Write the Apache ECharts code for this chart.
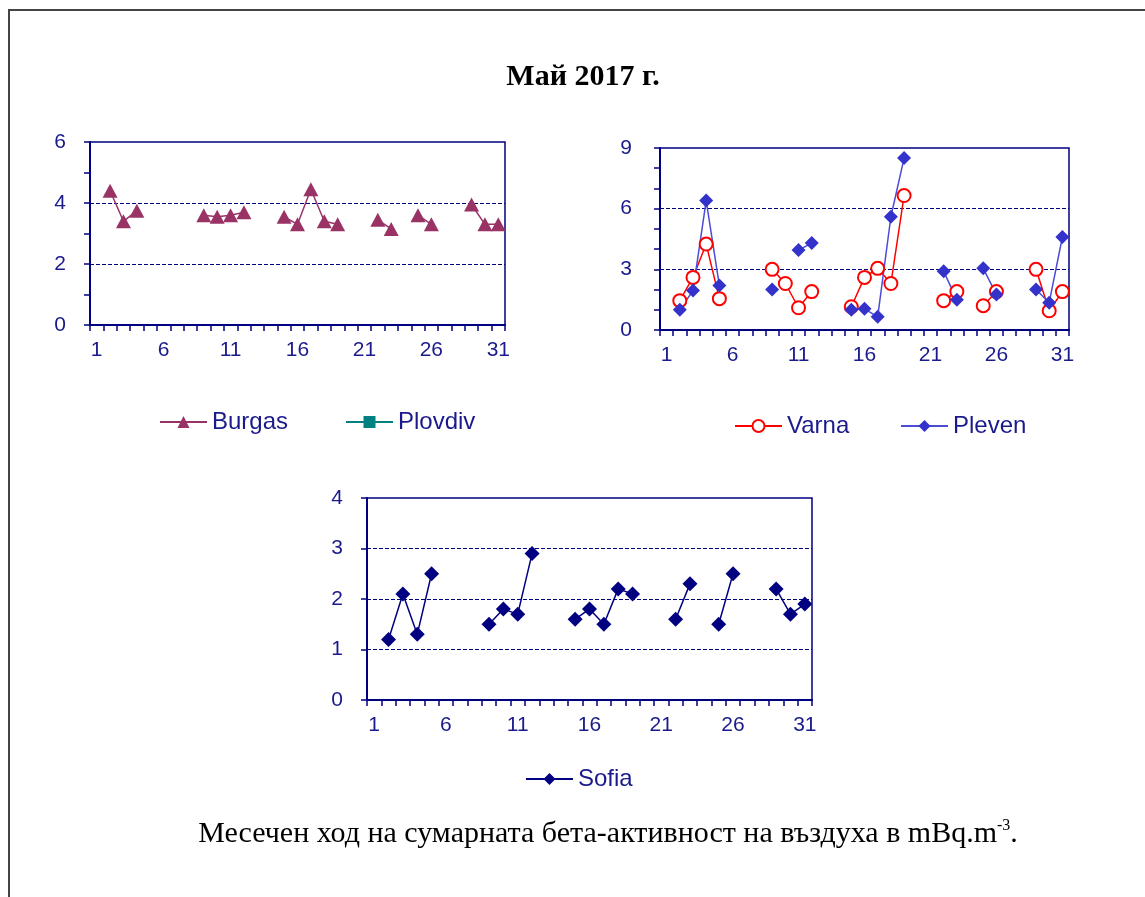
<!DOCTYPE html>
<html>
<head>
<meta charset="utf-8">
<script src="https://cdn.jsdelivr.net/npm/echarts@6/dist/echarts.min.js"></script>
<style>
  html, body { margin: 0; padding: 0; background: #fff; }
  #chart { width: 1145px; height: 897px; }
</style>
</head>
<body>
<div id="chart"></div>
<script>
// Days of May 2017
const days = ['1','2','3','4','5','6','7','8','9','10','11','12','13','14','15','16',
              '17','18','19','20','21','22','23','24','25','26','27','28','29','30','31'];

// Total beta activity of air, mBq/m3 (null = no measurement)
const burgas  = [null, 4.4, 3.4, 3.75, null, null, null, null, 3.6, 3.55, 3.6, 3.7, null, null, 3.55, 3.3,
                 4.45, 3.4, 3.3, null, null, 3.45, 3.15, null, 3.6, 3.3, null, null, 3.95, 3.3, 3.3];
const plovdiv = [null, null, null, null, null, null, null, null, null, null, null, null, null, null, null, null,
                 null, null, null, null, null, null, null, null, null, null, null, null, null, null, null];
const varna   = [null, 1.45, 2.6, 4.25, 1.55, null, null, null, 3.0, 2.3, 1.1, 1.9, null, null, 1.15, 2.6,
                 3.05, 2.3, 6.65, null, null, 1.45, 1.9, null, 1.2, 1.9, null, null, 3.0, 0.95, 1.9];
const pleven  = [null, 1.0, 1.95, 6.4, 2.2, null, null, null, 2.0, null, 3.95, 4.3, null, null, 1.0, 1.05,
                 0.65, 5.6, 8.5, null, null, 2.9, 1.5, null, 3.05, 1.75, null, null, 2.0, 1.35, 4.6];
const sofia   = [null, 1.2, 2.1, 1.3, 2.5, null, null, null, 1.5, 1.8, 1.7, 2.9, null, null, 1.6, 1.8,
                 1.5, 2.2, 2.1, null, null, 1.6, 2.3, null, 1.5, 2.5, null, null, 2.2, 1.7, 1.9];

const titleText = 'Май 2017 г.';
const captionText = 'Месечен ход на сумарната бета-активност на въздуха в mBq.m';

const NAVY = '#000080';
const TXT = '#1a1a8c';
const SANS = '"Liberation Sans", Arial, sans-serif';
const SERIF = '"Liberation Serif", "Times New Roman", serif';

function xAxis(gridIndex) {
  return {
    type: 'category', gridIndex, data: days, boundaryGap: true,
    axisLine: { show: true, lineStyle: { color: NAVY, width: 2 } },
    axisTick: { show: true, interval: 0, length: 6, lineStyle: { color: NAVY, width: 1.5 } },
    axisLabel: { interval: 4, color: TXT, fontSize: 21, fontFamily: SANS, margin: 15 },
    splitLine: { show: false }
  };
}

function yAxis(gridIndex, max, interval, minorSplit, margin) {
  return {
    type: 'value', gridIndex, min: 0, max, interval,
    axisLine: { show: true, lineStyle: { color: NAVY, width: 2 } },
    axisTick: { show: true, length: 6, lineStyle: { color: NAVY, width: 1.5 } },
    minorTick: { show: minorSplit > 1, splitNumber: minorSplit, length: 6, lineStyle: { color: NAVY, width: 1.5 } },
    axisLabel: { color: TXT, fontSize: 21, fontFamily: SANS, margin },
    splitLine: { show: true, showMinLine: false, showMaxLine: false,
                 lineStyle: { color: NAVY, width: 1, type: [4, 2] } }
  };
}

function legend(name, left, top) {
  return {
    data: [name], left, top, itemWidth: 47, itemHeight: 15, itemGap: 4, selectedMode: false,
    textStyle: { color: TXT, fontSize: 24, fontFamily: SANS }
  };
}

const gridStyle = { show: true, borderColor: NAVY, borderWidth: 1.5, backgroundColor: 'transparent' };

const option = {
  backgroundColor: '#fff',
  animation: false,
  graphic: [
    { type: 'rect', shape: { x: 9, y: 10, width: 1200, height: 1000 },
      style: { fill: 'none', stroke: '#444', lineWidth: 2 }, silent: true },
    { type: 'text', x: 583, y: 77,
      style: { text: titleText, fontFamily: SERIF, fontWeight: 'bold', fontSize: 30,
               fill: '#000', align: 'center', verticalAlign: 'middle' } },
    { type: 'text', x: 608, y: 834,
      style: { text: '{m|' + captionText + '}{s|-3}{m|.}', fill: '#000',
               align: 'center', verticalAlign: 'middle',
               rich: { m: { fontFamily: SERIF, fontSize: 30, fill: '#000', lineHeight: 32 },
                       s: { fontFamily: SERIF, fontSize: 16, fill: '#000', verticalAlign: 'top', lineHeight: 14 } } } }
  ],
  grid: [
    Object.assign({ left: 90, top: 142, width: 415, height: 183 }, gridStyle),
    Object.assign({ left: 660, top: 148, width: 409, height: 182 }, gridStyle),
    Object.assign({ left: 367, top: 498, width: 445, height: 202 }, gridStyle)
  ],
  xAxis: [xAxis(0), xAxis(1), xAxis(2)],
  yAxis: [yAxis(0, 6, 2, 2, 24), yAxis(1, 9, 3, 3, 28), yAxis(2, 4, 1, 1, 24)],
  legend: [
    legend('Burgas', 154, 405),
    legend('Plovdiv', 340, 405),
    legend('Varna', 729, 409),
    legend('Pleven', 895, 409),
    legend('Sofia', 520, 762)
  ],
  series: [
    { name: 'Burgas', type: 'line', xAxisIndex: 0, yAxisIndex: 0, data: burgas,
      symbol: 'triangle', symbolSize: [15, 14], showAllSymbol: true,
      lineStyle: { color: '#993366', width: 1.5 }, itemStyle: { color: '#993366' } },
    { name: 'Plovdiv', type: 'line', xAxisIndex: 0, yAxisIndex: 0, data: plovdiv,
      symbol: 'rect', symbolSize: 10,
      lineStyle: { color: '#008080', width: 1.5 }, itemStyle: { color: '#008080' } },
    { name: 'Varna', type: 'line', xAxisIndex: 1, yAxisIndex: 1, data: varna,
      symbol: 'emptyCircle', symbolSize: 13, showAllSymbol: true,
      lineStyle: { color: '#ff0000', width: 1.5 },
      itemStyle: { color: '#ff0000', borderColor: '#ff0000', borderWidth: 1.8 } },
    { name: 'Pleven', type: 'line', xAxisIndex: 1, yAxisIndex: 1, data: pleven,
      symbol: 'diamond', symbolSize: 14, showAllSymbol: true,
      lineStyle: { color: '#4c4cd6', width: 1.5 }, itemStyle: { color: '#3333cc' } },
    { name: 'Sofia', type: 'line', xAxisIndex: 2, yAxisIndex: 2, data: sofia,
      symbol: 'diamond', symbolSize: 15, showAllSymbol: true,
      lineStyle: { color: '#000080', width: 1.5 }, itemStyle: { color: '#000080' } }
  ]
};

const chart = echarts.init(document.getElementById('chart'), null, { renderer: 'canvas' });
chart.setOption(option);
</script>
</body>
</html>
